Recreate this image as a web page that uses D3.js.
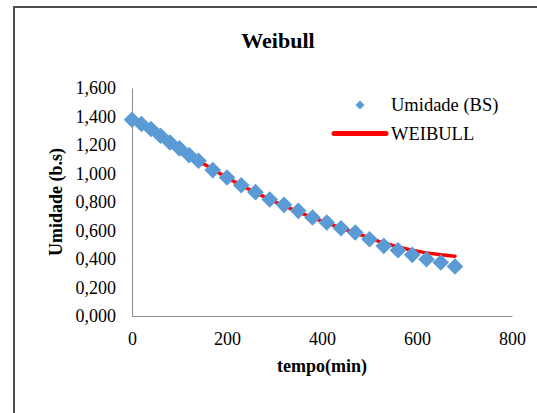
<!DOCTYPE html>
<html>
<head>
<meta charset="utf-8">
<script src="https://cdn.jsdelivr.net/npm/d3@7"></script>
<style>
  html, body { margin: 0; padding: 0; background: #fff; }
  svg { display: block; }
  text { font-family: "Liberation Serif", "Times New Roman", serif; fill: #000; }
</style>
</head>
<body>
<svg id="chart" width="537" height="413"></svg>
<script>
const tempo = [0, 20, 40, 60, 80, 100, 120, 140, 170, 200, 230, 260, 290, 320, 350, 380, 410, 440, 470, 500, 530, 560, 590, 620, 650, 680];
const umidade = [1.377, 1.347, 1.312, 1.265, 1.218, 1.176, 1.129, 1.089, 1.024, 0.972, 0.918, 0.869, 0.818, 0.780, 0.738, 0.691, 0.656, 0.616, 0.586, 0.539, 0.492, 0.461, 0.429, 0.398, 0.375, 0.347];
const weibull = [1.380, 1.341, 1.303, 1.263, 1.221, 1.178, 1.133, 1.089, 1.029, 0.971, 0.917, 0.866, 0.818, 0.773, 0.731, 0.691, 0.653, 0.617, 0.583, 0.548, 0.512, 0.484, 0.461, 0.443, 0.430, 0.420];
const xTicks = [0, 200, 400, 600, 800];
const yTicks = [0, 0.2, 0.4, 0.6, 0.8, 1.0, 1.2, 1.4, 1.6];
const seriesNames = ["Umidade (BS)", "WEIBULL"];
const titleText = "Weibull";
const xLabel = "tempo(min)";
const yLabel = "Umidade (b.s)";

const svg = d3.select("#chart");
const x = d3.scaleLinear().domain([0, 800]).range([132, 512]);
const y = d3.scaleLinear().domain([0, 1.6]).range([316, 88]);
const fmtY = v => d3.format(".3f")(v).replace(".", ",");

// outer frame (left and top edges visible)
svg.append("path")
  .attr("d", "M14,413 L14,7 L537,7")
  .attr("fill", "none").attr("stroke", "#505050").attr("stroke-width", 2);

// title
svg.append("text").attr("x", 278).attr("y", 48)
  .attr("text-anchor", "middle").attr("font-size", 22).attr("font-weight", "bold")
  .text(titleText);

// axes
const xAxis = svg.append("g").attr("transform", "translate(0,316)")
  .call(d3.axisBottom(x).tickValues(xTicks).tickSize(0).tickPadding(0).tickFormat(d3.format("d")));
xAxis.select(".domain").attr("stroke", "#8c8c8c").attr("stroke-width", 1);
xAxis.selectAll("text").attr("font-size", 18).attr("dy", null).attr("y", 29)
  .attr("font-family", "Liberation Serif").attr("fill", "#000");

const yAxis = svg.append("g").attr("transform", "translate(132,0)")
  .call(d3.axisLeft(y).tickValues(yTicks).tickSize(0).tickPadding(16).tickFormat(fmtY));
yAxis.select(".domain").attr("stroke", "#8c8c8c").attr("stroke-width", 1);
yAxis.selectAll("text").attr("font-size", 18).attr("dy", "0.32em")
  .attr("font-family", "Liberation Serif").attr("fill", "#000");

// axis titles
svg.append("text").attr("x", 322).attr("y", 372)
  .attr("text-anchor", "middle").attr("font-size", 18).attr("font-weight", "bold")
  .text(xLabel);
svg.append("text").attr("transform", "translate(62,202) rotate(-90)")
  .attr("text-anchor", "middle").attr("font-size", 18).attr("font-weight", "bold")
  .text(yLabel);

// weibull line
const line = d3.line().x((d, i) => x(tempo[i])).y(d => y(d));
svg.append("path").datum(weibull)
  .attr("d", line).attr("fill", "none")
  .attr("stroke", "#ff0000").attr("stroke-width", 3.5).attr("stroke-linecap", "round");

// markers
const diamond = r => `M0,${-r} L${r},0 L0,${r} L${-r},0 Z`;
svg.append("g").selectAll("path").data(umidade).join("path")
  .attr("transform", (d, i) => `translate(${x(tempo[i])},${y(d)})`)
  .attr("d", diamond(8.3))
  .attr("fill", "#5b9bd5");

// legend
const lg = svg.append("g");
lg.append("path").attr("transform", "translate(360,105)").attr("d", diamond(4.5)).attr("fill", "#5b9bd5");
lg.append("text").attr("x", 391).attr("y", 111).attr("font-size", 18.5).text(seriesNames[0]);
lg.append("line").attr("x1", 334).attr("x2", 386).attr("y1", 133.5).attr("y2", 133.5)
  .attr("stroke", "#ff0000").attr("stroke-width", 5).attr("stroke-linecap", "round");
lg.append("text").attr("x", 391).attr("y", 140).attr("font-size", 18.5).text(seriesNames[1]);
</script>
</body>
</html>
